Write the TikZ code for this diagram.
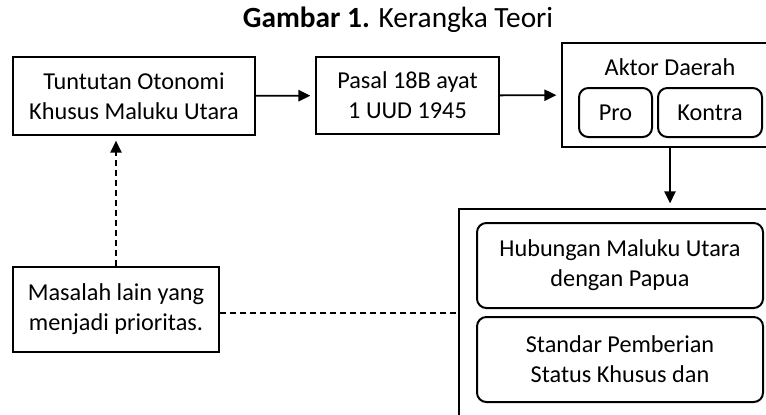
\documentclass[tikz,border=0pt]{standalone}
\usepackage{fontspec}
\setmainfont{Carlito}
\usepackage{tikz}
\usetikzlibrary{shapes, arrows, arrows.meta}

\tikzset{
  kotak/.style={draw, line width=1.5pt, align=center, inner sep=0pt},
  kotakbulat/.style={kotak, rounded corners=7pt},
  panah/.style={-{Triangle[length=9pt,width=8.5pt]}, line width=1.4pt, shorten >=3.5pt},
  putus/.style={line width=1.2pt, dash pattern=on 4.5pt off 3pt},
}

\begin{document}
\begin{tikzpicture}[x=0.75pt,y=0.75pt,yscale=-1,xscale=1]
        \useasboundingbox (0,0) rectangle (766,414);
        \clip (0,0) rectangle (766,414);
        \fontsize{18.2}{22.5}\selectfont

        % judul
        \node (judul) at (398,20) {\fontsize{22}{24}\selectfont\textbf{Gambar 1.} Kerangka Teori};

        % kotak atas
        \node [kotak, minimum width=242*0.75pt, minimum height=78*0.75pt] (tuntutan) at (134,96) {Tuntutan Otonomi\\Khusus Maluku Utara};
        \node [kotak, minimum width=183*0.75pt, minimum height=77*0.75pt] (pasal) at (407.5,95.5) {Pasal 18B ayat\\1 UUD 1945};
        \node [kotak, minimum width=208*0.75pt, minimum height=104*0.75pt] (aktor) at (666,95) {};
        \node (aktorlbl) at (670,67) {Aktor Daerah};
        \node [kotakbulat, minimum width=73*0.75pt, minimum height=49*0.75pt] (pro) at (615.5,112.5) {Pro};
        \node [kotakbulat, minimum width=104*0.75pt, minimum height=49*0.75pt] (kontra) at (710,112.5) {Kontra};

        % kotak bawah
        \node [kotak, minimum width=330*0.75pt, minimum height=240*0.75pt] (besar) at (624,329) {};
        \node [kotakbulat, minimum width=286*0.75pt, minimum height=85*0.75pt] (hubungan) at (620,265.5) {Hubungan Maluku Utara\\dengan Papua};
        \node [kotakbulat, minimum width=286*0.75pt, minimum height=85*0.75pt] (standar) at (620,359.5) {Standar Pemberian\\Status Khusus dan};
        \node [kotak, minimum width=206*0.75pt, minimum height=85*0.75pt] (masalah) at (116,309.5) {Masalah lain yang\\menjadi prioritas.};

        % panah
        \draw [panah] (tuntutan) -- (pasal);
        \draw [panah] (pasal) -- (aktor);
        \draw [panah] (aktor.south -| aktorlbl) -- (besar.north -| aktorlbl);
        \draw [panah, putus] (masalah.north) -- (masalah.north |- tuntutan.south);
        \draw [putus] ([yshift=2.5pt]masalah.east) -- ([yshift=2.5pt]masalah.east -| besar.west);
    \end{tikzpicture}
\end{document}
